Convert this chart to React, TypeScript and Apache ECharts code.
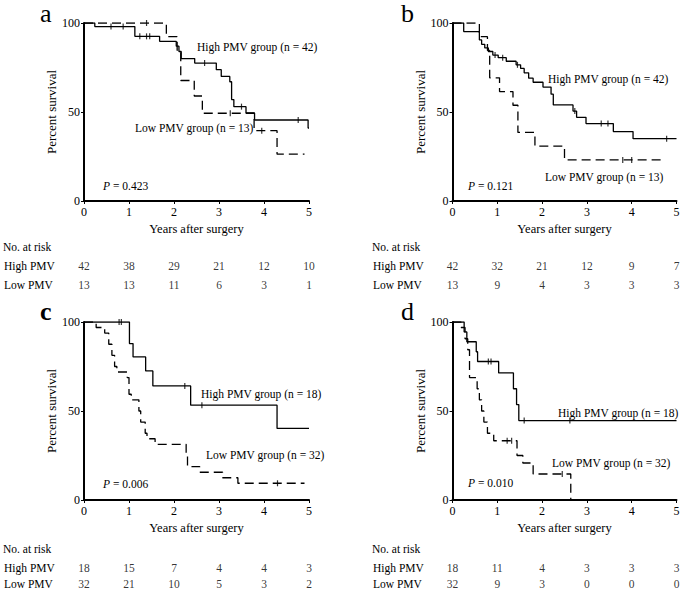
import React, { useEffect, useRef } from "react";
import * as echarts from "echarts";

const years = [0, 1, 2, 3, 4, 5];
const riskRows = ["High PMV", "Low PMV"];

// Panel a
const aHigh = [[0,100],[0.24,98],[1.13,92.5],[1.68,89.7],[2.05,87],[2.11,84],[2.16,80],[2.46,77.5],[2.94,73.8],[3.05,70],[3.24,67],[3.28,57],[3.33,53],[3.6,49.5],[3.79,45.5],[4.98,41],[5.0,41]];
const aHighCens = [[0.6,98],[0.87,98],[1.24,92.5],[1.39,92.5],[1.46,92.5],[2.68,77.5],[3.5,53],[4.76,45.5]];
const aLow = [[0,100],[1.83,92.3],[2.07,84.6],[2.15,67.7],[2.45,59],[2.63,49.3],[3.78,39.5],[4.29,26.3],[4.9,26.3]];
const aLowCens = [[1.39,100],[3.25,49.3],[3.95,39.5]];
const aRiskHigh = [42, 38, 29, 21, 12, 10];
const aRiskLow = [13, 13, 11, 6, 3, 1];

// Panel b
const bHigh = [[0,100],[0.25,95.2],[0.6,90.5],[0.65,88],[0.72,86],[0.8,84],[0.9,82],[1.02,80.5],[1.2,78.5],[1.42,76.5],[1.52,74.5],[1.6,72],[1.7,69],[1.8,66.7],[2.02,64],[2.2,60],[2.25,54],[2.69,50.5],[2.77,47],[2.98,43.5],[3.59,39],[4.03,35],[5.0,35]];
const bHighCens = [[0.95,82],[1.12,80.5],[1.45,76.5],[2.73,50.5],[3.32,43.5],[3.47,43.5],[4.78,35]];
const bLow = [[0,100],[0.6,92.3],[0.78,84.6],[0.83,69.2],[1.05,61.5],[1.35,53.8],[1.46,38.5],[1.84,30.8],[2.5,23.1],[4.67,23.1]];
const bLowCens = [[3.8,23.1],[4.0,23.1]];
const bRiskHigh = [42, 32, 21, 12, 9, 7];
const bRiskLow = [13, 9, 4, 3, 3, 3];

// Panel c
const cHigh = [[0,100],[1.01,87.9],[1.09,80.4],[1.37,72.5],[1.53,64.1],[2.37,53.3],[4.29,40.2],[5.0,40.2]];
const cHighCens = [[0.78,100],[0.83,100],[2.24,64.1],[2.62,53.3]];
const cLow = [[0,100],[0.27,96.9],[0.46,93.8],[0.55,87.5],[0.62,81.3],[0.68,75],[0.73,71.9],[0.96,68.8],[1.0,59.4],[1.05,56.3],[1.22,50],[1.26,43.8],[1.36,37.5],[1.4,34.4],[1.58,31.3],[2.27,25],[2.3,18.8],[2.57,15.6],[3.08,12.5],[3.42,9.4],[4.9,9.4]];
const cLowCens = [[4.3,9.4]];
const cRiskHigh = [18, 15, 7, 4, 4, 3];
const cRiskLow = [32, 21, 10, 5, 3, 2];

// Panel d
const dHigh = [[0,100],[0.26,94.4],[0.32,88.9],[0.53,83.3],[0.56,77.8],[1.03,71.4],[1.36,62.5],[1.43,53.6],[1.48,44.6],[5.0,44.6]];
const dHighCens = [[0.8,77.8],[0.86,77.8],[1.6,44.6],[2.62,44.6]];
const dLow = [[0,100],[0.19,96.9],[0.28,90.6],[0.34,84.4],[0.38,68.8],[0.55,62.5],[0.6,56.3],[0.65,50],[0.7,43.8],[0.78,37.5],[0.92,33.3],[1.44,25],[1.57,20.8],[1.8,14.6],[2.64,14.6],[2.64,0]];
const dLowCens = [[1.22,33.3],[1.32,33.3],[2.45,14.6]];
const dRiskHigh = [18, 11, 4, 3, 3, 3];
const dRiskLow = [32, 9, 3, 0, 0, 0];

const pValues = ["0.423", "0.121", "0.006", "0.010"];
const highNames = ["High PMV group (n = 42)", "High PMV group (n = 42)", "High PMV group (n = 18)", "High PMV group (n = 18)"];
const lowNames = ["Low PMV group (n = 13)", "Low PMV group (n = 13)", "Low PMV group (n = 32)", "Low PMV group (n = 32)"];
const panelLetters = ["a", "b", "c", "d"];

const FONT = "'Liberation Serif', 'Times New Roman', serif";

// layout (positions only)
const layouts = [
  { left: 84, top: 23, w: 225, h: 178, tableTop: 257, riskY: 247, rowX: 3, letterX: 40, letterY: 13.5, high: [197, 47], low: [135, 128], p: [103, 186] },
  { left: 452.5, top: 23, w: 224, h: 178, tableTop: 257, riskY: 247, rowX: 372, letterX: 401, letterY: 13.5, high: [548, 79], low: [545, 177], p: [468, 186] },
  { left: 84, top: 322, w: 225, h: 178, tableTop: 559.5, riskY: 549, rowX: 3, letterX: 40, letterY: 311, high: [201, 394], low: [206, 455], p: [103, 484] },
  { left: 452.5, top: 322, w: 224, h: 178, tableTop: 559.5, riskY: 549, rowX: 372, letterX: 401, letterY: 311, high: [558, 413], low: [552, 463], p: [468, 483] },
];

const curves = [
  { high: aHigh, highC: aHighCens, low: aLow, lowC: aLowCens, rh: aRiskHigh, rl: aRiskLow },
  { high: bHigh, highC: bHighCens, low: bLow, lowC: bLowCens, rh: bRiskHigh, rl: bRiskLow },
  { high: cHigh, highC: cHighCens, low: cLow, lowC: cLowCens, rh: cRiskHigh, rl: cRiskLow },
  { high: dHigh, highC: dHighCens, low: dLow, lowC: dLowCens, rh: dRiskHigh, rl: dRiskLow },
];

function buildOption() {
  const grid: any[] = [];
  const xAxis: any[] = [];
  const yAxis: any[] = [];
  const series: any[] = [];
  const graphic: any[] = [];

  layouts.forEach((L, i) => {
    const C = curves[i];
    const gPlot = i * 2;
    const gTab = i * 2 + 1;
    grid.push({ left: L.left, top: L.top, width: L.w, height: L.h });
    grid.push({ left: L.left, top: L.tableTop, width: L.w, height: 37 });

    xAxis.push({
      type: "value", gridIndex: gPlot, min: 0, max: 5, interval: 1,
      splitLine: { show: false },
      axisLine: { show: true, onZero: false, lineStyle: { color: "#000", width: 2 } },
      axisTick: { show: true, length: 3, lineStyle: { color: "#000", width: 1 } },
      axisLabel: { color: "#000", fontFamily: FONT, fontSize: 12, margin: 5 },
      name: "Years after surgery", nameLocation: "middle", nameGap: 21,
      nameTextStyle: { color: "#000", fontFamily: FONT, fontSize: 12.5 },
    });
    xAxis.push({ type: "value", gridIndex: gTab, min: 0, max: 5, show: false });

    yAxis.push({
      type: "value", gridIndex: gPlot, min: 0, max: 100, interval: 50,
      splitLine: { show: false },
      axisLine: { show: true, onZero: false, lineStyle: { color: "#000", width: 2 } },
      axisTick: { show: true, length: 3, lineStyle: { color: "#000", width: 1 } },
      axisLabel: { color: "#000", fontFamily: FONT, fontSize: 12, margin: 4 },
      name: "Percent survival", nameLocation: "middle", nameGap: 22,
      nameTextStyle: { color: "#000", fontFamily: FONT, fontSize: 13 },
    });
    yAxis.push({
      type: "category", gridIndex: gTab, data: riskRows, inverse: true,
      axisLine: { show: false }, axisTick: { show: false }, splitLine: { show: false },
      axisLabel: { color: "#000", fontFamily: FONT, fontSize: 11.5, align: "left", margin: L.left - L.rowX - 1 },
    });

    const lineBase = { type: "line", xAxisIndex: gPlot, yAxisIndex: gPlot, step: "end", symbol: "none", silent: true };
    series.push({ ...lineBase, data: C.high, lineStyle: { color: "#000", width: 1.3 } });
    series.push({ ...lineBase, data: C.low, lineStyle: { color: "#000", width: 1.3, type: [9, 5] } });
    const censBase = { type: "scatter", xAxisIndex: gPlot, yAxisIndex: gPlot, symbol: "rect", symbolSize: [1.2, 6], itemStyle: { color: "#000" }, silent: true };
    series.push({ ...censBase, data: C.highC });
    series.push({ ...censBase, data: C.lowC });

    const tableData: any[] = [];
    years.forEach((yr, k) => {
      tableData.push([yr, riskRows[0], C.rh[k]]);
      tableData.push([yr, riskRows[1], C.rl[k]]);
    });
    series.push({
      type: "scatter", xAxisIndex: gTab, yAxisIndex: gTab, symbolSize: 1,
      itemStyle: { color: "rgba(0,0,0,0)" }, silent: true,
      data: tableData,
      label: { show: true, position: "inside", formatter: (p: any) => String(p.value[2]), color: "#000", fontFamily: FONT, fontSize: 11.5 },
    });

    const textStyle = { fill: "#000", fontFamily: FONT, fontSize: 11.5 };
    graphic.push({ type: "text", x: L.rowX, y: L.riskY, style: { ...textStyle, text: "No. at risk", verticalAlign: "middle" } });
    graphic.push({ type: "text", x: L.high[0], y: L.high[1], style: { ...textStyle, text: highNames[i], verticalAlign: "middle" } });
    graphic.push({ type: "text", x: L.low[0], y: L.low[1], style: { ...textStyle, text: lowNames[i], verticalAlign: "middle" } });
    graphic.push({
      type: "text", x: L.p[0], y: L.p[1],
      style: { fill: "#000", fontFamily: FONT, fontSize: 11.5, verticalAlign: "middle", rich: { i: { fontStyle: "italic", fontFamily: FONT, fontSize: 11.5 } }, text: "{i|P} = " + pValues[i] },
    });
    graphic.push({
      type: "text", x: L.letterX, y: L.letterY,
      style: { fill: "#000", fontFamily: FONT, fontSize: 26, fontWeight: panelLetters[i] === "c" ? "bold" : "normal", verticalAlign: "middle", text: panelLetters[i] },
    });
  });

  return { animation: false, backgroundColor: "#fff", grid, xAxis, yAxis, series, graphic };
}

export default function App() {
  const ref = useRef<HTMLDivElement>(null);
  useEffect(() => {
    document.body.style.margin = "0";
    if (!ref.current) return;
    const chart = echarts.init(ref.current, undefined, { renderer: "svg" });
    chart.setOption(buildOption() as any);
    return () => chart.dispose();
  }, []);
  return <div ref={ref} style={{ width: 685, height: 592 }} />;
}
